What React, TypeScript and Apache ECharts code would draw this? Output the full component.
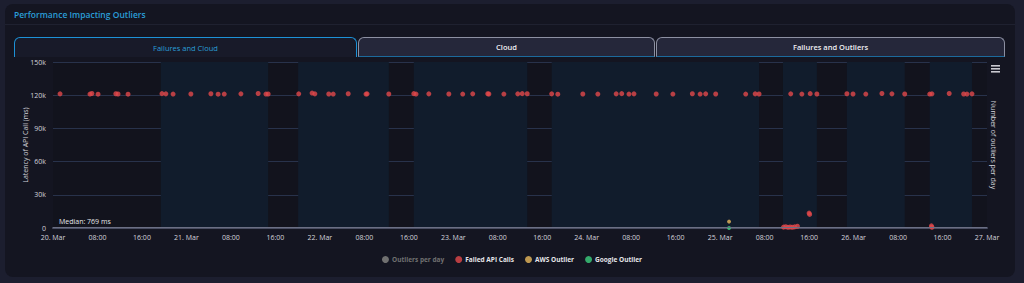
import React, { useEffect, useRef } from "react";
import * as echarts from "echarts";

// Failed API calls: "DD HH:MM" in March, latency in ms
const failedTimes = [
  "20 01:16", "20 06:39", "20 07:00", "20 08:06", "20 11:18", "20 11:42", "20 13:30",
  "20 19:36", "20 20:18", "20 21:36", "21 00:48", "21 04:24", "21 05:42", "21 06:48",
  "21 09:48", "21 12:54", "21 14:18", "21 14:42", "21 20:12", "21 22:36", "21 23:06",
  "22 01:36", "22 02:24", "22 05:06", "22 08:18", "22 08:30", "22 12:24", "22 16:54",
  "22 17:18", "22 19:36", "22 23:12", "23 01:42", "23 03:30", "23 06:12", "23 06:24",
  "23 09:06", "23 11:36", "23 12:24", "23 13:18", "23 17:42", "23 18:48", "23 23:18",
  "24 02:00", "24 05:18", "24 06:18", "24 07:36", "24 08:30", "24 12:30", "24 15:30",
  "24 19:00", "24 20:24", "24 21:24", "24 23:12", "25 04:36", "25 06:18", "25 07:00",
  "25 11:24", "25 11:48", "25 12:12", "25 12:36", "25 13:00", "25 13:24", "25 13:54",
  "25 12:42", "25 14:42", "25 16:00", "25 16:06", "25 16:12", "25 17:24", "25 22:48",
  "25 23:54", "26 02:12", "26 05:06", "26 06:54", "26 09:12", "26 13:42", "26 14:00",
  "26 14:06", "26 14:06", "26 17:12", "26 19:48", "26 20:24", "26 21:18",
];
const failedLatency = [
  121200, 121000, 121500, 120900, 121300, 121100, 120900,
  121400, 121200, 121000, 121100, 121300, 120900, 121000,
  121200, 121500, 121000, 121100, 121200, 121900, 121200,
  121100, 121000, 121300, 121000, 121200, 121100, 121400,
  121000, 121200, 121100, 121000, 121200, 121300, 121100,
  121000, 121200, 121400, 121300, 121200, 120900, 121100,
  121000, 121200, 121400, 121000, 121200, 121100, 121000,
  121300, 121000, 121200, 121100, 121000, 121200, 121100,
  800, 1100, 600, 900, 700, 1000, 1600,
  121200, 121000, 13500, 12300, 121400, 121100, 121300,
  121100, 121000, 121500, 121200, 121100, 121000, 1900,
  700, 121200, 121500, 121100, 121000, 121200,
];

// Cloud provider outliers (per-day count, right axis)
const awsTimes = ["25 01:36"];
const awsCounts = [1];
const googleTimes = ["25 01:36"];
const googleCounts = [0];
const outliersPerDay: [number, number][] = [];

// Shaded activity windows [start, end]
const bandStarts = ["20 19:24", "21 20:06", "22 16:54", "23 17:42", "25 11:18", "25 22:48", "26 13:42"];
const bandEnds = ["21 14:42", "22 12:24", "23 13:18", "25 07:00", "25 17:24", "26 09:12", "26 21:18"];

const medianLatency = 769;
const yTicks = [0, 30000, 60000, 90000, 120000, 150000];
const tabs = ["Failures and Cloud", "Cloud", "Failures and Outliers"];

const HOUR = 3600 * 1000;
const T0 = Date.UTC(2024, 2, 20);
const T1 = Date.UTC(2024, 2, 27);

function toTs(s: string): number {
  const [d, hm] = s.split(" ");
  const [h, m] = hm.split(":").map(Number);
  return Date.UTC(2024, 2, Number(d), h, m);
}
const pad = (n: number) => (n < 10 ? "0" + n : "" + n);

const FONT = "'Open Sans', 'Noto Sans', sans-serif";

function Chart() {
  const ref = useRef<HTMLDivElement>(null);
  useEffect(() => {
    if (!ref.current) return;
    const chart = echarts.init(ref.current, undefined, { renderer: "svg" });
    const failed = failedTimes.map((t, i) => [toTs(t), failedLatency[i]]);
    const aws = awsTimes.map((t, i) => [toTs(t), awsCounts[i]]);
    const google = googleTimes.map((t, i) => [toTs(t), googleCounts[i]]);
    const bands = bandStarts.map((s, i) => [{ xAxis: toTs(s) }, { xAxis: toTs(bandEnds[i]) }]);

    chart.setOption({
      animation: false,
      backgroundColor: "transparent",
      textStyle: { fontFamily: FONT },
      grid: {
        left: 53,
        right: 37,
        top: 62,
        bottom: 55,
        show: true,
        backgroundColor: "#12131d",
        borderWidth: 0,
      },
      legend: {
        data: ["Outliers per day", "Failed API Calls", "AWS Outlier", "Google Outlier"],
        selected: { "Outliers per day": false },
        top: 251,
        left: "center",
        icon: "circle",
        itemWidth: 7,
        itemHeight: 7,
        itemGap: 11,
        inactiveColor: "#707070",
        textStyle: { color: "#e6e6ea", fontSize: 6.5, fontWeight: "bold", fontFamily: FONT, padding: [0, 0, 0, -2] },
      },
      xAxis: {
        type: "value",
        min: T0,
        max: T1,
        interval: 8 * HOUR,
        axisLine: { show: true, lineStyle: { color: "#4a4e63", width: 2 } },
        axisTick: { show: false },
        splitLine: { show: false },
        axisLabel: {
          color: "#d4d4dc",
          fontSize: 7,
          margin: 6,
          showMaxLabel: true,
          formatter: (v: number) => {
            const d = new Date(v);
            const h = d.getUTCHours();
            return h === 0 ? `${d.getUTCDate()}. Mar` : `${pad(h)}:00`;
          },
        },
      },
      yAxis: [
        {
          type: "value",
          min: 0,
          max: yTicks[yTicks.length - 1],
          interval: yTicks[1] - yTicks[0],
          name: "Latency of API Call (ms)",
          nameLocation: "middle",
          nameGap: 24,
          nameMoveOverlap: false,
          nameTextStyle: { color: "#d4d4dc", fontSize: 7 },
          axisLine: { show: false },
          axisTick: { show: false },
          splitLine: { lineStyle: { color: "#28324b", width: 1 } },
          axisLabel: {
            color: "#d4d4dc",
            fontSize: 7,
            margin: 7,
            formatter: (v: number) => (v === 0 ? "0" : v / 1000 + "k"),
          },
        },
        {
          type: "value",
          min: 0,
          max: 26,
          position: "right",
          name: "Number of outliers per day",
          nameLocation: "middle",
          nameGap: 3,
          nameMoveOverlap: false,
          nameRotate: -90,
          nameTextStyle: { color: "#d4d4dc", fontSize: 7 },
          axisLine: { show: false },
          axisTick: { show: false },
          axisLabel: { show: false },
          splitLine: { show: false },
        },
      ],
      series: [
        {
          name: "Outliers per day",
          type: "bar",
          yAxisIndex: 1,
          itemStyle: { color: "#7f7f7f" },
          data: outliersPerDay,
        },
        {
          name: "Failed API Calls",
          type: "scatter",
          symbolSize: 5,
          itemStyle: { color: "#e2484b" },
          data: failed,
          markArea: {
            silent: true,
            itemStyle: { color: "#111c2c" },
            data: bands,
          },
          markLine: {
            silent: true,
            symbol: "none",
            lineStyle: { color: "#6b6f84", width: 1, type: "solid" },
            label: {
              position: "insideStartTop",
              formatter: "Median: " + medianLatency + " ms",
              color: "#e6e6ea",
              fontSize: 7,
              distance: [6, 2],
            },
            data: [{ yAxis: medianLatency }],
          },
        },
        {
          name: "AWS Outlier",
          type: "scatter",
          yAxisIndex: 1,
          symbolSize: 4,
          itemStyle: { color: "#e8b95c" },
          data: aws,
        },
        {
          name: "Google Outlier",
          type: "scatter",
          yAxisIndex: 1,
          symbolSize: 4,
          itemStyle: { color: "#3ccf7e" },
          data: google,
        },
      ],
      graphic: [
        { type: "rect", shape: { x: 991, y: 65, width: 9, height: 1.6 }, style: { fill: "#c9c9d0" } },
        { type: "rect", shape: { x: 991, y: 68, width: 9, height: 1.6 }, style: { fill: "#c9c9d0" } },
        { type: "rect", shape: { x: 991, y: 71, width: 9, height: 1.6 }, style: { fill: "#c9c9d0" } },
      ],
    });
    return () => chart.dispose();
  }, []);
  return <div ref={ref} style={{ position: "absolute", left: 0, top: 0, width: 1024, height: 283 }} />;
}

const tabBounds = [
  [14, 357],
  [358, 655],
  [656, 1005],
];

export default function App() {
  useEffect(() => {
    document.body.style.margin = "0";
  }, []);
  return (
    <div
      style={{
        position: "fixed",
        left: 0,
        top: 0,
        width: 1024,
        height: 283,
        background: "#1c1e2f",
        fontFamily: FONT,
        overflow: "hidden",
      }}
    >
      <div
        style={{
          position: "absolute",
          left: 5,
          top: 4,
          width: 1010,
          height: 273,
          background: "#141521",
          borderRadius: 8,
        }}
      />
      <div
        style={{
          position: "absolute",
          left: 14,
          top: 7,
          fontSize: 8.5,
          fontWeight: 600,
          color: "#2a9ed8",
          lineHeight: "16px",
        }}
      >
        Performance Impacting Outliers
      </div>
      <div style={{ position: "absolute", left: 5, top: 24, width: 1010, height: 1, background: "#1f2130" }} />
      {tabs.map((t, i) => {
        const [x0, x1] = tabBounds[i];
        const active = i === 0;
        return (
          <div
            key={t}
            style={{
              position: "absolute",
              left: x0,
              top: 37,
              width: x1 - x0,
              height: 20,
              boxSizing: "border-box",
              borderRadius: "6px 6px 0 0",
              border: active ? "1.5px solid #1d91d6" : "1px solid #8d90a2",
              borderBottom: active ? "none" : "1px solid #1c6a9c",
              background: active ? "#181a29" : "#25273a",
              color: active ? "#2a9ed8" : "#f0f0f4",
              fontSize: 7.5,
              fontWeight: active ? 400 : 600,
              display: "flex",
              alignItems: "center",
              justifyContent: "center",
            }}
          >
            {t}
          </div>
        );
      })}
      <Chart />
    </div>
  );
}
